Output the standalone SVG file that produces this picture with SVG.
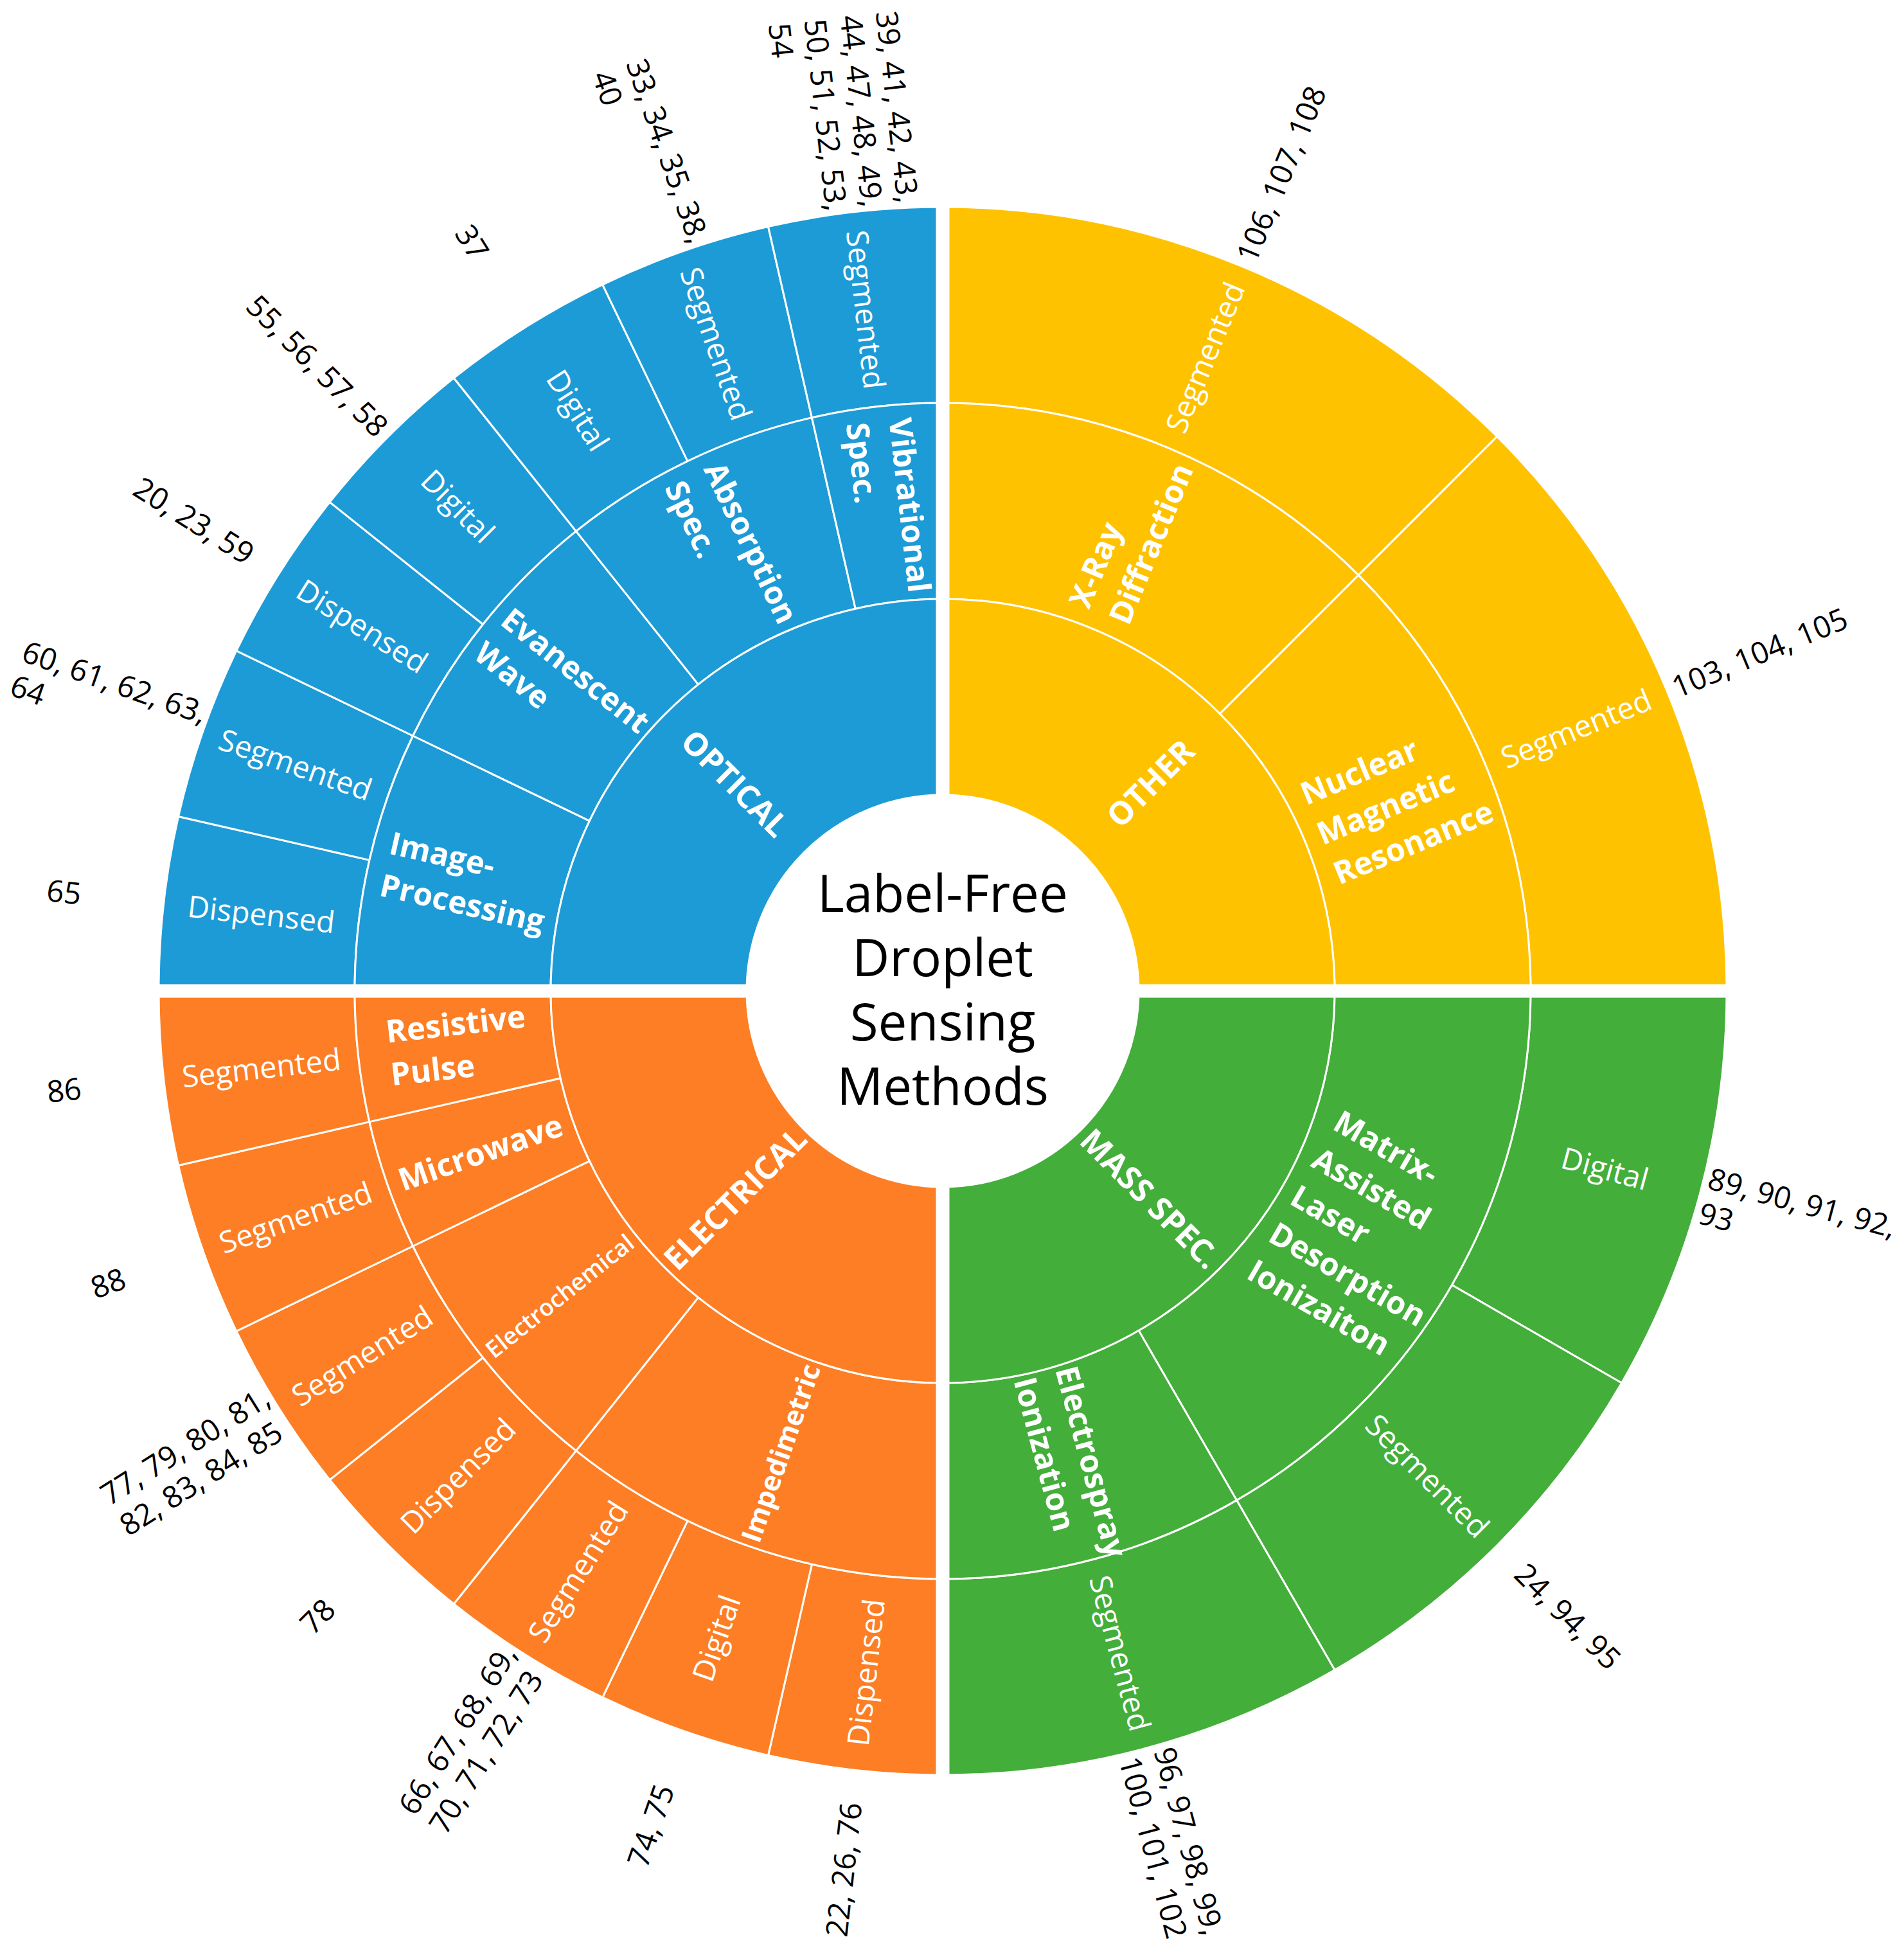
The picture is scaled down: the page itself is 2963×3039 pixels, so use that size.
<svg xmlns="http://www.w3.org/2000/svg" width="2963" height="3039" viewBox="0 0 2963 3039">
<defs>
<style>
text{font-family:"Open Sans","Noto Sans","DejaVu Sans",sans-serif}
.cell{stroke:#fff;stroke-width:3;stroke-linejoin:round}
.b{fill:#1D9BD7}.y{fill:#FFC200}.g{fill:#43AE3A}.o{fill:#FD7E24}
.leaf{font-size:47px;fill:#fff;text-anchor:middle}
.sub{font-size:49px;font-weight:700;fill:#fff}
.subm{font-size:49px;font-weight:700;fill:#fff;text-anchor:middle}
.cat{font-size:50px;font-weight:700;fill:#fff;text-anchor:middle}
.num{font-size:47px;fill:#000;text-anchor:middle}
.numb{font-size:47px;fill:#000}
.title{font-size:80px;fill:#000;text-anchor:middle}
</style>
</defs>
<rect width="2963" height="3039" fill="#fff"/>
<g transform="translate(1467,1542)">
<g id="optical">
<g id="opt-ip-dispensed"><path class="cell b" d="M -1220,0 A1220,1220 0 0 1 -1189.4,-271.5 L -892.1,-203.6 A915,915 0 0 0 -915,0 Z"/><text class="leaf" transform="translate(-1060.3,-119.5) rotate(6.43)" y="17">Dispensed</text><text class="num" transform="translate(-1367.3,-154.1) rotate(6.43)" y="17">65</text></g>
<g id="opt-ip-segmented"><path class="cell b" d="M -1189.4,-271.5 A1220,1220 0 0 1 -1099.2,-529.3 L -824.4,-397 A915,915 0 0 0 -892.1,-203.6 Z"/><text class="leaf" transform="translate(-1007.1,-352.4) rotate(19.29)" y="17">Segmented</text><text class="numb" transform="translate(-1298.8,-454.5) rotate(19.29)"><tspan x="-149" y="-11">60, 61, 62, 63,</tspan><tspan x="-149" y="45">64</tspan></text></g>
<g id="opt-ew-dispensed"><path class="cell b" d="M -1099.2,-529.3 A1220,1220 0 0 1 -953.8,-760.7 L -715.4,-570.5 A915,915 0 0 0 -824.4,-397 Z"/><text class="leaf" transform="translate(-903.5,-567.7) rotate(32.14)" y="17">Dispensed</text><text class="num" transform="translate(-1165.1,-732.1) rotate(32.14)" y="17">20, 23, 59</text></g>
<g id="opt-ew-digital"><path class="cell b" d="M -953.8,-760.7 A1220,1220 0 0 1 -760.7,-953.8 L -570.5,-715.4 A915,915 0 0 0 -715.4,-570.5 Z"/><text class="leaf" transform="translate(-754.5,-754.5) rotate(45)" y="17">Digital</text><text class="num" transform="translate(-973,-973) rotate(45)" y="17">55, 56, 57, 58</text></g>
<g id="opt-as-digital"><path class="cell b" d="M -760.7,-953.8 A1220,1220 0 0 1 -529.3,-1099.2 L -397,-824.4 A915,915 0 0 0 -570.5,-715.4 Z"/><text class="leaf" transform="translate(-567.7,-903.5) rotate(57.86)" y="17">Digital</text><text class="num" transform="translate(-732.1,-1165.1) rotate(57.86)" y="17">37</text></g>
<g id="opt-as-segmented"><path class="cell b" d="M -529.3,-1099.2 A1220,1220 0 0 1 -271.5,-1189.4 L -203.6,-892.1 A915,915 0 0 0 -397,-824.4 Z"/><text class="leaf" transform="translate(-352.4,-1007.1) rotate(70.71)" y="17">Segmented</text><text class="numb" transform="translate(-454.5,-1298.8) rotate(70.71)"><tspan x="-149" y="-11">33, 34, 35, 38,</tspan><tspan x="-149" y="45">40</tspan></text></g>
<g id="opt-vs-segmented"><path class="cell b" d="M -271.5,-1189.4 A1220,1220 0 0 1 0,-1220 L 0,-915 A915,915 0 0 0 -203.6,-892.1 Z"/><text class="leaf" transform="translate(-119.5,-1060.3) rotate(83.57)" y="17">Segmented</text><text class="numb" transform="translate(-154.1,-1367.3) rotate(83.57)"><tspan x="-149" y="-67">39, 41, 42, 43,</tspan><tspan x="-149" y="-11">44, 47, 48, 49,</tspan><tspan x="-149" y="45">50, 51, 52, 53,</tspan><tspan x="-149" y="101">54</tspan></text></g>
<g id="image-processing"><path class="cell b" d="M -915,0 A915,915 0 0 1 -824.4,-397 L -549.6,-264.7 A610,610 0 0 0 -610,0 Z"/><text class="sub" transform="translate(-742.9,-169.6) rotate(12.86)"><tspan x="-127.5" y="-16.5">Image-</tspan><tspan x="-127.5" y="50.5">Processing</tspan></text></g>
<g id="evanescent-wave"><path class="cell b" d="M -824.4,-397 A915,915 0 0 1 -570.5,-715.4 L -380.3,-476.9 A610,610 0 0 0 -549.6,-264.7 Z"/><text class="sub" transform="translate(-595.8,-475.1) rotate(38.57)"><tspan x="-134.5" y="-16.5">Evanescent</tspan><tspan x="-134.5" y="50.5">Wave</tspan></text></g>
<g id="absorption-spec"><path class="cell b" d="M -570.5,-715.4 A915,915 0 0 1 -203.6,-892.1 L -135.7,-594.7 A610,610 0 0 0 -380.3,-476.9 Z"/><text class="sub" transform="translate(-330.6,-686.5) rotate(64.29)"><tspan x="-131.5" y="-16.5">Absorption</tspan><tspan x="-131.5" y="50.5">Spec.</tspan></text></g>
<g id="vibrational-spec"><path class="cell b" d="M -203.6,-892.1 A915,915 0 0 1 0,-915 L 0,-610 A610,610 0 0 0 -135.7,-594.7 Z"/><text class="sub" transform="translate(-85.3,-757.2) rotate(83.57)"><tspan x="-131.5" y="-16.5">Vibrational</tspan><tspan x="-131.5" y="50.5">Spec.</tspan></text></g>
<g id="optical-root"><path class="cell b" d="M -610,0 A610,610 0 0 1 0,-610 L 0,-305 A305,305 0 0 0 -305,0 Z"/><text class="cat" transform="translate(-323.1,-323.1) rotate(45)" y="18">OPTICAL</text></g>
</g>
<g id="other">
<g id="oth-xr-segmented"><path class="cell y" d="M 0,-1220 A1220,1220 0 0 1 862.7,-862.7 L 647,-647 A915,915 0 0 0 0,-915 Z"/><text class="leaf" transform="translate(408.3,-985.8) rotate(-67.5)" y="17">Segmented</text><text class="num" transform="translate(526.6,-1271.3) rotate(-67.5)" y="17">106, 107, 108</text></g>
<g id="oth-nmr-segmented"><path class="cell y" d="M 862.7,-862.7 A1220,1220 0 0 1 1220,0 L 915,0 A915,915 0 0 0 647,-647 Z"/><text class="leaf" transform="translate(985.8,-408.3) rotate(-22.5)" y="17">Segmented</text><text class="num" transform="translate(1271.3,-526.6) rotate(-22.5)" y="17">103, 104, 105</text></g>
<g id="xray-diffraction"><path class="cell y" d="M 0,-915 A915,915 0 0 1 647,-647 L 431.3,-431.3 A610,610 0 0 0 0,-610 Z"/><text class="sub" transform="translate(291.6,-704) rotate(-67.5)"><tspan x="-127.5" y="-16.5">X-Ray</tspan><tspan x="-127.5" y="50.5">Diffraction</tspan></text></g>
<g id="nmr"><path class="cell y" d="M 647,-647 A915,915 0 0 1 915,0 L 610,0 A610,610 0 0 0 431.3,-431.3 Z"/><text class="sub" transform="translate(704,-291.6) rotate(-22.5)"><tspan x="-129" y="-50">Nuclear</tspan><tspan x="-129" y="17">Magnetic</tspan><tspan x="-129" y="84">Resonance</tspan></text></g>
<g id="other-root"><path class="cell y" d="M 0,-610 A610,610 0 0 1 610,0 L 305,0 A305,305 0 0 0 0,-305 Z"/><text class="cat" transform="translate(323.1,-323.1) rotate(-45)" y="18">OTHER</text></g>
</g>
<g id="mass-spec">
<g id="ms-maldi-digital"><path class="cell g" d="M 1220,0 A1220,1220 0 0 1 1056.6,610 L 792.4,457.5 A915,915 0 0 0 915,0 Z"/><text class="leaf" transform="translate(1030.6,276.2) rotate(15)" y="17">Digital</text><text class="numb" transform="translate(1329.1,356.1) rotate(15)"><tspan x="-149" y="-11">89, 90, 91, 92,</tspan><tspan x="-149" y="45">93</tspan></text></g>
<g id="ms-maldi-segmented"><path class="cell g" d="M 1056.6,610 A1220,1220 0 0 1 610,1056.6 L 457.5,792.4 A915,915 0 0 0 792.4,457.5 Z"/><text class="leaf" transform="translate(754.5,754.5) rotate(45)" y="17">Segmented</text><text class="num" transform="translate(973,973) rotate(45)" y="17">24, 94, 95</text></g>
<g id="ms-esi-segmented"><path class="cell g" d="M 610,1056.6 A1220,1220 0 0 1 0,1220 L 0,915 A915,915 0 0 0 457.5,792.4 Z"/><text class="leaf" transform="translate(276.2,1030.6) rotate(75)" y="17">Segmented</text><text class="numb" transform="translate(356.1,1329.1) rotate(75)"><tspan x="-149" y="-11">96, 97, 98, 99,</tspan><tspan x="-149" y="45">100, 101, 102</tspan></text></g>
<g id="maldi"><path class="cell g" d="M 915,0 A915,915 0 0 1 457.5,792.4 L 305,528.3 A610,610 0 0 0 610,0 Z"/><text class="sub" transform="translate(659.9,381) rotate(30)"><tspan x="-131.5" y="-117">Matrix-</tspan><tspan x="-131.5" y="-50">Assisted</tspan><tspan x="-131.5" y="17">Laser</tspan><tspan x="-131.5" y="84">Desorption</tspan><tspan x="-131.5" y="151">Ionizaiton</tspan></text></g>
<g id="esi"><path class="cell g" d="M 457.5,792.4 A915,915 0 0 1 0,915 L 0,610 A610,610 0 0 0 305,528.3 Z"/><text class="sub" transform="translate(197.2,736) rotate(75)"><tspan x="-147.5" y="-16.5">Electrospray</tspan><tspan x="-147.5" y="50.5">Ionization</tspan></text></g>
<g id="mass-root"><path class="cell g" d="M 610,0 A610,610 0 0 1 0,610 L 0,305 A305,305 0 0 0 305,0 Z"/><text class="cat" transform="translate(323.1,323.1) rotate(45)" y="18">MASS SPEC.</text></g>
</g>
<g id="electrical">
<g id="el-imp-dispensed"><path class="cell o" d="M 0,1220 A1220,1220 0 0 1 -271.5,1189.4 L -203.6,892.1 A915,915 0 0 0 0,915 Z"/><text class="leaf" transform="translate(-119.5,1060.3) rotate(-83.57)" y="17">Dispensed</text><text class="num" transform="translate(-154.1,1367.3) rotate(-83.57)" y="17">22, 26, 76</text></g>
<g id="el-imp-digital"><path class="cell o" d="M -271.5,1189.4 A1220,1220 0 0 1 -529.3,1099.2 L -397,824.4 A915,915 0 0 0 -203.6,892.1 Z"/><text class="leaf" transform="translate(-352.4,1007.1) rotate(-70.71)" y="17">Digital</text><text class="num" transform="translate(-454.5,1298.8) rotate(-70.71)" y="17">74, 75</text></g>
<g id="el-imp-segmented"><path class="cell o" d="M -529.3,1099.2 A1220,1220 0 0 1 -760.7,953.8 L -570.5,715.4 A915,915 0 0 0 -397,824.4 Z"/><text class="leaf" transform="translate(-567.7,903.5) rotate(-57.86)" y="17">Segmented</text><text class="numb" transform="translate(-732.1,1165.1) rotate(-57.86)"><tspan x="-149" y="-11">66, 67, 68, 69,</tspan><tspan x="-149" y="45">70, 71, 72, 73</tspan></text></g>
<g id="el-ec-dispensed"><path class="cell o" d="M -760.7,953.8 A1220,1220 0 0 1 -953.8,760.7 L -715.4,570.5 A915,915 0 0 0 -570.5,715.4 Z"/><text class="leaf" transform="translate(-754.5,754.5) rotate(-45)" y="17">Dispensed</text><text class="num" transform="translate(-973,973) rotate(-45)" y="17">78</text></g>
<g id="el-ec-segmented"><path class="cell o" d="M -953.8,760.7 A1220,1220 0 0 1 -1099.2,529.3 L -824.4,397 A915,915 0 0 0 -715.4,570.5 Z"/><text class="leaf" transform="translate(-903.5,567.7) rotate(-32.14)" y="17">Segmented</text><text class="numb" transform="translate(-1165.1,732.1) rotate(-32.14)"><tspan x="-149" y="-11">77, 79, 80, 81,</tspan><tspan x="-149" y="45">82, 83, 84, 85</tspan></text></g>
<g id="el-mw-segmented"><path class="cell o" d="M -1099.2,529.3 A1220,1220 0 0 1 -1189.4,271.5 L -892.1,203.6 A915,915 0 0 0 -824.4,397 Z"/><text class="leaf" transform="translate(-1007.1,352.4) rotate(-19.29)" y="17">Segmented</text><text class="num" transform="translate(-1298.8,454.5) rotate(-19.29)" y="17">88</text></g>
<g id="el-rp-segmented"><path class="cell o" d="M -1189.4,271.5 A1220,1220 0 0 1 -1220,0 L -915,0 A915,915 0 0 0 -892.1,203.6 Z"/><text class="leaf" transform="translate(-1060.3,119.5) rotate(-6.43)" y="17">Segmented</text><text class="num" transform="translate(-1367.3,154.1) rotate(-6.43)" y="17">86</text></g>
<g id="impedimetric"><path class="cell o" d="M 0,915 A915,915 0 0 1 -570.5,715.4 L -380.3,476.9 A610,610 0 0 0 0,610 Z"/><text class="subm" transform="translate(-251.7,719.2) rotate(-70.71)" y="15" style="font-size:43px">Impedimetric</text></g>
<g id="electrochemical"><path class="cell o" d="M -570.5,715.4 A915,915 0 0 1 -824.4,397 L -549.6,264.7 A610,610 0 0 0 -380.3,476.9 Z"/><text transform="translate(-595.8,475.1) rotate(-38.57)" y="13" style="font-size:37px;font-weight:600;fill:#fff;text-anchor:middle">Electrochemical</text></g>
<g id="microwave"><path class="cell o" d="M -824.4,397 A915,915 0 0 1 -892.1,203.6 L -594.7,135.7 A610,610 0 0 0 -549.6,264.7 Z"/><text class="subm" transform="translate(-719.2,251.7) rotate(-19.29)" y="17">Microwave</text></g>
<g id="resistive-pulse"><path class="cell o" d="M -892.1,203.6 A915,915 0 0 1 -915,0 L -610,0 A610,610 0 0 0 -594.7,135.7 Z"/><text class="sub" transform="translate(-757.2,85.3) rotate(-6.43)"><tspan x="-106" y="-16.5">Resistive</tspan><tspan x="-106" y="50.5">Pulse</tspan></text></g>
<g id="electrical-root"><path class="cell o" d="M 0,610 A610,610 0 0 1 -610,0 L -305,0 A305,305 0 0 0 0,305 Z"/><text class="cat" transform="translate(-323.1,323.1) rotate(-45)" y="18">ELECTRICAL</text></g>
</g>
<g id="gaps" fill="#fff">
<rect x="-10.5" y="-1240" width="21" height="2480"/>
<rect x="-1240" y="-10.5" width="2480" height="21"/>
</g>
<g id="center-title">
<text class="title" x="0" y="-123">Label-Free</text>
<text class="title" x="0" y="-23">Droplet</text>
<text class="title" x="0" y="77">Sensing</text>
<text class="title" x="0" y="177">Methods</text>
</g>
</g>
</svg>
